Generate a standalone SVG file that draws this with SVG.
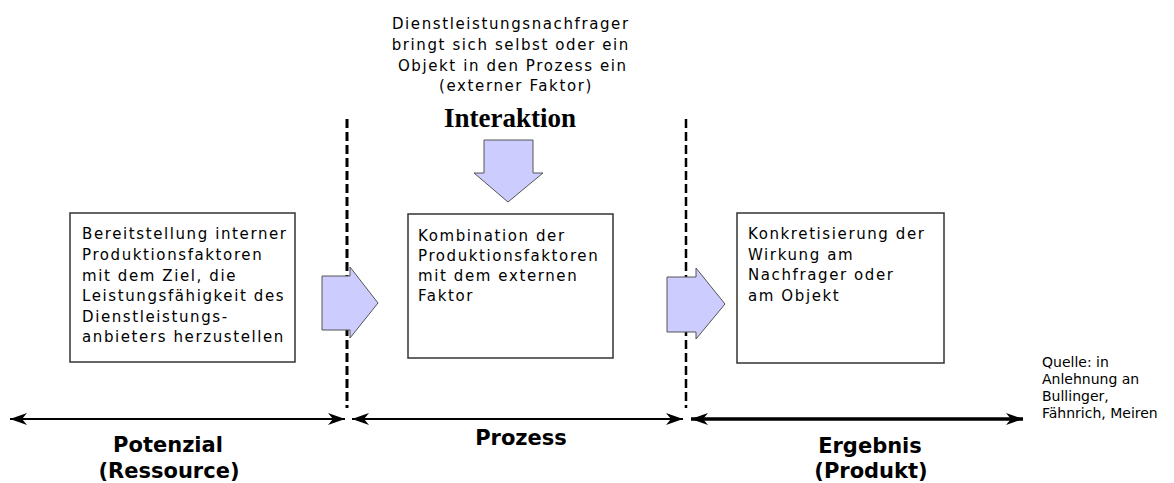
<svg xmlns="http://www.w3.org/2000/svg" width="1174" height="483" viewBox="0 0 1174 483">
  <style>
    .body { font-family: "DejaVu Sans", Verdana, sans-serif; font-size: 15px; letter-spacing: 1.6px; fill: #000; }
    .note { font-family: "DejaVu Sans", Verdana, sans-serif; font-size: 14px; fill: #000; }
    .phase { font-family: "DejaVu Sans", Verdana, sans-serif; font-size: 21px; font-weight: bold; fill: #000; text-anchor: middle; }
    .title { font-family: "Liberation Serif", "Times New Roman", serif; font-size: 27px; font-weight: bold; fill: #000; text-anchor: middle; }
    .box { fill: #fff; stroke: #333; stroke-width: 1.5; }
    .flow { fill: #ccccff; stroke: #555; stroke-width: 1; }
    .divider { fill: none; stroke: #000; stroke-dasharray: 9 4; }
    .axis { fill: none; stroke: #000; }
  </style>
  <defs>
    <marker id="head" markerUnits="userSpaceOnUse" viewBox="-18 -7 19 14" refX="0" refY="0" markerWidth="19" markerHeight="14" orient="auto-start-reverse">
      <path d="M0,0 L-17,-6 L-12,0 L-17,6 Z" fill="#000"/>
    </marker>
  </defs>

  <!-- phase boundaries -->
  <g id="dividers">
    <line class="divider" x1="347" y1="119" x2="347" y2="408" stroke-width="3"/>
    <line class="divider" x1="686" y1="119" x2="686" y2="408" stroke-width="2.5"/>
  </g>

  <!-- top caption -->
  <g id="external-factor">
    <text class="body" text-anchor="middle">
      <tspan x="514" y="29">Dienstleistungsnachfrager</tspan>
      <tspan x="514" y="50">bringt sich selbst oder ein</tspan>
      <tspan x="516" y="71">Objekt in den Prozess ein</tspan>
      <tspan x="516" y="91">(externer Faktor)</tspan>
    </text>
  </g>

  <g id="interaktion">
    <text class="title" x="510" y="127">Interaktion</text>
  </g>

  <!-- block arrows -->
  <g id="connectors">
    <polygon class="flow" points="484,140 533,140 533,173 543,173 508,202 474,173 484,173"/>
    <polygon class="flow" points="322,276 350,276 350,267 378,303 350,338 350,330 322,330"/>
    <polygon class="flow" points="667,277 696,277 696,268 725,304 696,339 696,332 667,332"/>
  </g>

  <g id="potenzial-box">
    <rect class="box" x="70" y="213" width="225" height="149"/>
    <text class="body">
      <tspan x="82" y="239">Bereitstellung interner</tspan>
      <tspan x="82" y="260">Produktionsfaktoren</tspan>
      <tspan x="82" y="281">mit dem Ziel, die</tspan>
      <tspan x="82" y="301">Leistungsfähigkeit des</tspan>
      <tspan x="82" y="322">Dienstleistungs-</tspan>
      <tspan x="82" y="342">anbieters herzustellen</tspan>
    </text>
  </g>

  <g id="prozess-box">
    <rect class="box" x="408" y="214" width="205" height="144"/>
    <text class="body">
      <tspan x="418" y="241">Kombination der</tspan>
      <tspan x="418" y="261">Produktionsfaktoren</tspan>
      <tspan x="418" y="281">mit dem externen</tspan>
      <tspan x="418" y="301">Faktor</tspan>
    </text>
  </g>

  <g id="ergebnis-box">
    <rect class="box" x="737" y="213" width="207" height="150"/>
    <text class="body">
      <tspan x="748" y="239">Konkretisierung der</tspan>
      <tspan x="748" y="260">Wirkung am</tspan>
      <tspan x="748" y="280">Nachfrager oder</tspan>
      <tspan x="748" y="301">am Objekt</tspan>
    </text>
  </g>

  <!-- timeline -->
  <g id="timeline">
    <line class="axis" x1="10" y1="419" x2="345" y2="419" stroke-width="2" marker-start="url(#head)" marker-end="url(#head)"/>
    <line class="axis" x1="352" y1="419" x2="683" y2="419" stroke-width="2" marker-start="url(#head)" marker-end="url(#head)"/>
    <line class="axis" x1="691" y1="419" x2="1023" y2="419" stroke-width="3.5" marker-start="url(#head)" marker-end="url(#head)"/>
  </g>

  <g id="phase-labels">
    <text class="phase" x="168" y="452">Potenzial</text>
    <text class="phase" x="169" y="478">(Ressource)</text>
    <text class="phase" x="521" y="445">Prozess</text>
    <text class="phase" x="870" y="453">Ergebnis</text>
    <text class="phase" x="871" y="478">(Produkt)</text>
  </g>

  <g id="source">
    <text class="note">
      <tspan x="1042" y="367">Quelle: in</tspan>
      <tspan x="1042" y="384">Anlehnung an</tspan>
      <tspan x="1042" y="401">Bullinger,</tspan>
      <tspan x="1042" y="418">Fähnrich, Meiren</tspan>
    </text>
  </g>
</svg>
